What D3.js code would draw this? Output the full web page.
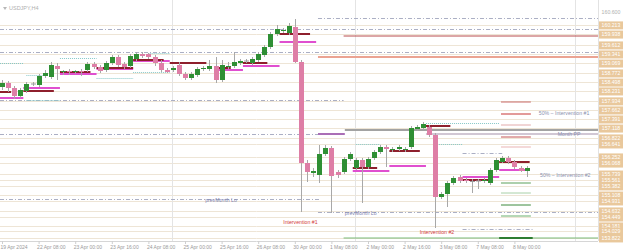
<!DOCTYPE html>
<html><head><meta charset="utf-8">
<script src="https://cdn.jsdelivr.net/npm/d3@7"></script>
<style>
body{margin:0;background:#fff;}
svg{display:block;font-family:"Liberation Sans",Arial,sans-serif;}
</style></head>
<body><svg id="c" width="625" height="252"></svg>
<script>
// ---------- data ----------
const symbol = "USDJPY,H4";
const open = [158.35,158.47,158.32,158.08,158.23,158.44,158.41,158.68,158.65,158.98,
158.80,158.83,158.80,158.83,158.86,159.04,158.95,158.86,159.07,159.25,
159.04,158.98,159.19,159.34,159.34,159.25,159.07,158.86,158.86,159.01,
158.74,158.62,158.71,158.89,158.89,158.98,158.56,158.95,158.98,159.07,
159.13,159.07,159.16,159.31,159.55,159.94,160.03,159.97,160.15,159.10,
156.07,155.77,155.71,156.34,156.52,155.80,155.80,156.19,155.92,156.16,
155.95,156.22,156.40,156.55,156.46,156.49,156.46,156.55,157.09,157.12,
157.15,156.91,155.05,155.14,155.47,155.65,155.56,155.53,155.53,155.53,
155.47,155.86,156.10,156.22,156.10,155.92,155.83];
const high = [158.56,158.53,158.38,158.32,158.50,158.50,158.74,158.86,159.10,159.07,
158.86,158.89,158.86,158.89,159.10,159.10,159.01,159.13,159.31,159.31,
159.10,159.34,159.40,159.40,159.37,159.31,159.16,158.92,158.98,159.10,
158.80,158.80,158.95,158.98,159.16,159.25,159.16,159.10,159.40,159.19,
159.19,159.25,159.40,159.61,160.00,160.21,160.12,160.27,160.39,159.16,
156.16,155.92,156.61,156.61,156.58,155.86,156.25,156.40,156.22,156.22,
156.25,156.46,156.61,156.61,156.55,156.61,156.55,157.18,157.21,157.30,
157.21,156.97,155.20,155.53,155.68,155.71,155.62,155.59,155.59,155.62,
155.92,156.22,156.28,156.28,156.16,155.98,155.98];
const low = [158.26,158.20,157.99,158.02,158.17,158.38,158.35,158.62,158.59,158.56,
158.71,158.71,158.74,158.68,158.80,158.89,158.77,158.80,159.01,158.95,
158.89,158.92,159.13,159.22,159.19,158.98,158.80,158.77,158.80,158.68,
158.56,158.56,158.65,158.83,158.83,158.47,158.50,158.89,158.92,159.01,
159.07,159.01,159.10,159.25,159.49,159.88,159.97,159.91,159.07,154.60,
155.50,155.65,155.47,156.28,154.57,155.62,155.74,156.13,155.86,154.87,
155.89,156.16,156.34,155.95,156.40,156.43,156.40,156.49,157.03,157.06,
156.85,154.12,154.99,154.75,155.41,155.47,155.47,155.17,155.29,155.47,
155.41,155.80,156.07,156.04,155.89,155.80,155.65];
const close = [158.47,158.32,158.08,158.26,158.44,158.455,158.68,158.77,159.01,158.89,
158.83,158.80,158.83,158.80,159.04,158.95,158.83,159.07,159.25,159.01,
158.95,159.28,159.34,159.28,159.25,159.07,158.86,158.80,158.92,158.74,
158.62,158.74,158.89,158.92,158.98,158.56,159.01,158.98,159.10,159.13,
159.145,159.19,159.34,159.55,159.94,160.09,160.06,160.18,159.10,156.07,
155.80,155.83,156.34,156.52,155.68,155.71,156.19,156.34,156.16,155.95,
156.19,156.40,156.55,156.49,156.49,156.55,156.49,157.12,157.15,157.24,
156.91,155.05,155.14,155.47,155.62,155.53,155.53,155.515,155.545,155.56,
155.86,156.16,156.22,156.10,155.95,155.83,155.92];

const xTickIndex  = [0,6,12,18,24,30,36,42,48,54,60,66,72,78,84];
const xTickLabels = ["19 Apr 2024","22 Apr 08:00","23 Apr 00:00","23 Apr 16:00","24 Apr 08:00",
  "25 Apr 00:00","25 Apr 16:00","26 Apr 08:00","30 Apr 00:00","1 May 08:00",
  "2 May 00:00","2 May 16:00","3 May 08:00","7 May 08:00","8 May 00:00"];

const topPriceLabel = 160.600;
const levelPrices = [160.213,159.938,159.612,159.341,159.069,158.772,158.498,158.231,157.934,
  157.662,157.391,157.118,156.822,156.641,156.252,156.068,155.739,155.561,155.382,155.108,
  154.931,154.632,154.449,154.181,154.029,153.822];

// daily pivot segments
const dayStart   = [0,4,10,16,22,28,34,40,46,52,58,64,70,76,82];
const dayEnd     = [3,9,15,21,27,33,39,45,51,57,63,69,75,81,86];
const pivotStart = [0,4,10,16,22,28,36,40,46,null,58,64,70,76,82];
const pivotEnd   = [1,8,14,21,26,33,37,43,50,null,61,68,73,80,86];
const pivotPrice = [158.20,158.23,158.80,158.92,159.16,159.07,158.92,159.07,159.94,null,155.92,156.43,157.18,155.56,156.10];
const magStart   = [0,4,10,16,22,null,36,40,46,null,58,64,null,76,82];
const magPrice   = [158.02,158.32,158.74,158.89,159.13,null,158.86,158.98,159.70,null,155.83,155.98,null,155.65,155.86];

// dotted support/resistance stubs
const dotFrom  = [-0.5,4,4,9.5,15.5,21.5,24,58,69.5,71];
const dotTo    = [3.5,9.5,7,15.5,21.5,27.5,27.5,62,81.5,75.5];
const dotPrice = [159.07,157.96,158.71,159.22,158.62,158.80,159.37,156.64,157.27,156.64];

// long dashed levels
const dashFrom  = [-1,-1,-1,-1,-1,51.8,51.8,75.5,75.5];
const dashTo    = [98,98,56,51.8,52,98,98,82,87];
const dashPrice = [160.09,159.40,157.96,156.94,154.99,154.60,160.42,156.37,154.09];

// monthly levels
const monFrom  = [51.8,56,56.2,69.5,51.8,56,81.5];
const monTo    = [98,98,98,98,56.2,98,87];
const monPrice = [159.25,159.88,157.06,156.94,156.94,153.82,153.82];
const monColor = ["#eba392","#b84c4c","#a3a3a3","#c2b4c6","#8e3e9e","#79ba79","#2e7d32"];
const monWidth = [2,1,2,1.5,1.5,1,2];

// intervention ladder
const ladderPrice = [157.90,157.54,157.21,156.85,156.55,155.47,155.17,154.81,154.48];
const ladderColor = ["#c96a6a","#e39a9a","#e3aaaa","#c45454","#e9b3b3","#5aa05a","#a8d0a8","#3d8a3d","#6cb06c"];
const ladderWidth = [1,2,1,1,1,1,1,1,1];

const vLines = [27.9,57.9,93.9];

const notes = [
  {t:"prevMonth Lo", i:33.3, p:154.97, c:"#7d82b0"},
  {t:"prevMonth Lo", i:56.2, p:154.58, c:"#7d82b0"},
  {t:"Intervention #1", i:46.1, p:154.31, c:"#d23a3a"},
  {t:"Intervention #2", i:68.5, p:154.01, c:"#d23a3a"},
  {t:"50% \u2013 Intervention #1", i:88.0, p:157.57, c:"#8a8fae"},
  {t:"Month PP", i:91.1, p:156.94, c:"#8a8fae"},
  {t:"50% \u2013 Intervention #2", i:88.2, p:155.71, c:"#8a8fae"}
];

// ---------- drawing ----------
const svg = d3.select("#c");
const plotR = 598, plotB = 241;
const x = d3.scaleLinear().domain([0, 86]).range([2, 2 + 6.1 * 86]);
const y = d3.scaleLinear().domain([153.70, 160.90]).range([242, 2]);
const cx = v => Math.min(plotR, Math.max(0, x(v)));

const g = svg.append("g");

// level grid lines
g.selectAll(".lvl").data(levelPrices).join("line")
  .attr("x1",0).attr("x2",plotR)
  .attr("y1",d=>Math.round(y(d))+0.5).attr("y2",d=>Math.round(y(d))+0.5)
  .attr("stroke","#eee5d6").attr("stroke-width",1);

// vertical separators
g.selectAll(".vl").data(vLines).join("line")
  .attr("x1",d=>Math.round(x(d))+0.5).attr("x2",d=>Math.round(x(d))+0.5)
  .attr("y1",0).attr("y2",plotB).attr("stroke","#e4e4e4");

// dashed levels
g.selectAll(".dl").data(dashPrice).join("line")
  .attr("x1",(d,i)=>cx(dashFrom[i])).attr("x2",(d,i)=>cx(dashTo[i]))
  .attr("y1",d=>Math.round(y(d))+0.5).attr("y2",d=>Math.round(y(d))+0.5)
  .attr("stroke","#abafc4").attr("stroke-dasharray","4,2,1,2");

// dotted stubs
g.selectAll(".dt").data(dotPrice).join("line")
  .attr("x1",(d,i)=>cx(dotFrom[i])).attr("x2",(d,i)=>cx(dotTo[i]))
  .attr("y1",d=>Math.round(y(d))+0.5).attr("y2",d=>Math.round(y(d))+0.5)
  .attr("stroke","#86c8c8").attr("stroke-dasharray","1,1");

// monthly
g.selectAll(".mo").data(monPrice).join("line")
  .attr("x1",(d,i)=>cx(monFrom[i])).attr("x2",(d,i)=>cx(monTo[i]))
  .attr("y1",d=>y(d)).attr("y2",d=>y(d))
  .attr("stroke",(d,i)=>monColor[i]).attr("stroke-width",(d,i)=>monWidth[i]);

// ladder
g.selectAll(".ld").data(ladderPrice).join("line")
  .attr("x1",x(81.8)).attr("x2",x(86.7))
  .attr("y1",d=>y(d)).attr("y2",d=>y(d))
  .attr("stroke",(d,i)=>ladderColor[i]).attr("stroke-width",(d,i)=>ladderWidth[i]);

// daily magenta & pivot
const mag = magPrice.map((p,i)=>({p, s:magStart[i], e:dayEnd[i]})).filter(d=>d.p!=null);
g.selectAll(".mg").data(mag).join("line")
  .attr("x1",d=>cx(d.s-0.5)).attr("x2",d=>cx(d.e+0.5))
  .attr("y1",d=>y(d.p)).attr("y2",d=>y(d.p))
  .attr("stroke","#e04fcf").attr("stroke-width",2);
const piv = pivotPrice.map((p,i)=>({p, s:pivotStart[i], e:pivotEnd[i]})).filter(d=>d.p!=null);
g.selectAll(".pv").data(piv).join("line")
  .attr("x1",d=>cx(d.s-0.5)).attr("x2",d=>cx(d.e+0.5))
  .attr("y1",d=>y(d.p)).attr("y2",d=>y(d.p))
  .attr("stroke","#8e1f2c").attr("stroke-width",2);

// candles
const idx = d3.range(open.length);
const up = i => close[i] >= open[i];
g.selectAll(".wk").data(idx).join("line")
  .attr("x1",i=>Math.round(x(i))+0.5).attr("x2",i=>Math.round(x(i))+0.5)
  .attr("y1",i=>y(high[i])).attr("y2",i=>y(low[i]))
  .attr("stroke","#a8a8a8").attr("stroke-width",1);
g.selectAll(".bd").data(idx).join("rect")
  .attr("x",i=>Math.round(x(i))-2).attr("width",5)
  .attr("y",i=>y(Math.max(open[i],close[i])))
  .attr("height",i=>Math.max(1,Math.abs(y(open[i])-y(close[i]))))
  .attr("fill",i=>Math.abs(open[i]-close[i])<0.02 ? "#9a9a9a" : (up(i)?"#2f8f34":"#de7ea6"));

// notes
g.selectAll(".nt").data(notes).join("text")
  .attr("x",d=>x(d.i)).attr("y",d=>y(d.p)+2)
  .attr("font-size",5.2).attr("fill",d=>d.c).text(d=>d.t);

// bottom axis
svg.append("line").attr("x1",0).attr("x2",plotR).attr("y1",plotB+0.5).attr("y2",plotB+0.5).attr("stroke","#d6d6d6");
svg.append("line").attr("x1",plotR+0.5).attr("x2",plotR+0.5).attr("y1",0).attr("y2",plotB).attr("stroke","#e2e2e2");
const xAxis = d3.axisBottom(x).tickValues(xTickIndex).tickFormat((d,i)=>xTickLabels[i]).tickSize(3).tickSizeOuter(0);
const ax = svg.append("g").attr("transform",`translate(0,${plotB})`).call(xAxis);
ax.select(".domain").remove();
ax.selectAll(".tick line").attr("stroke","#cfcfcf");
ax.selectAll(".tick text").attr("text-anchor","start").attr("dx",-2).attr("y",4)
  .attr("font-size",5).attr("fill","#9a9a9a").attr("font-family","Liberation Sans, Arial, sans-serif");

// right price axis
const yAxis = d3.axisRight(y).tickValues(levelPrices).tickFormat(d3.format(".3f")).tickSize(0);
const ay = svg.append("g").attr("transform",`translate(${plotR+1},0)`).call(yAxis);
ay.select(".domain").remove();
ay.selectAll(".tick").insert("rect","text").attr("x",0).attr("y",-4).attr("width",24).attr("height",8).attr("fill","#e9c89c");
ay.selectAll(".tick text").attr("x",12).attr("text-anchor","middle").attr("font-size",5.2)
  .attr("fill","#ffffff").attr("font-family","Liberation Sans, Arial, sans-serif");
svg.append("text").attr("x",611).attr("y",y(topPriceLabel)+2).attr("text-anchor","middle")
  .attr("font-size",5.2).attr("fill","#b0b0b0").text(d3.format(".3f")(topPriceLabel));

// title
svg.append("path").attr("d","M3,7 L7,7 L5,10 Z").attr("fill","#b8b8b8");
svg.append("text").attr("x",9).attr("y",10).attr("font-size",5.5).attr("fill","#b0b0b0").text(symbol);
</script></body></html>
